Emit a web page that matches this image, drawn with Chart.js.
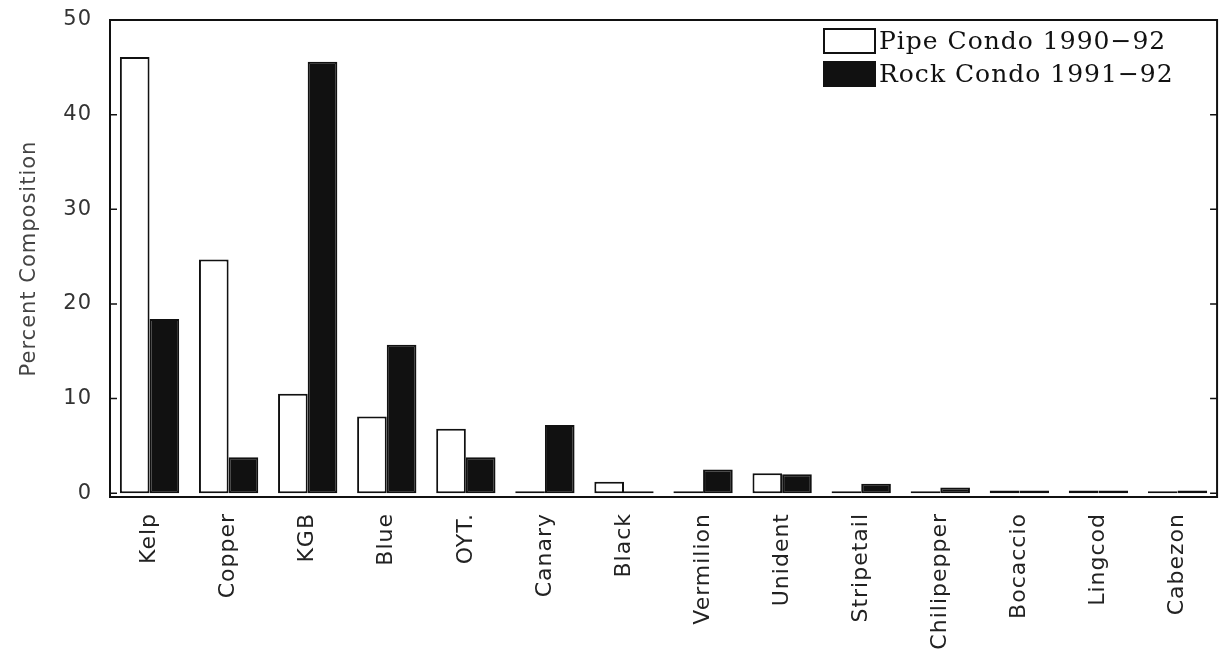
<!DOCTYPE html>
<html>
<head>
<meta charset="utf-8">
<script src="https://cdn.jsdelivr.net/npm/chart.js@4.4.0/dist/chart.umd.min.js"></script>
<style>
  html, body { margin: 0; padding: 0; background: #fff; }
  #wrap { position: relative; width: 1220px; height: 662px; }
  #legend { position: absolute; left: 823px; top: 24px; font-family: "DejaVu Serif", serif; font-size: 25px; letter-spacing: 1px; color: #111; }
  #legend div { display: flex; align-items: center; height: 33px; }
  #legend span.box { display: inline-block; width: 53px; height: 26px; border: 2px solid #111; margin-right: 3px; box-sizing: border-box; }
</style>
</head>
<body>
<div id="wrap">
  <canvas id="fishChart" width="1220" height="662"></canvas>
  <div id="legend">
    <div><span class="box" style="background:#fff"></span>Pipe Condo 1990−92</div>
    <div><span class="box" style="background:#111"></span>Rock Condo 1991−92</div>
  </div>
</div>
<script>
const species = ['Kelp', 'Copper', 'KGB', 'Blue', 'OYT.', 'Canary', 'Black', 'Vermilion', 'Unident', 'Stripetail', 'Chilipepper', 'Bocaccio', 'Lingcod', 'Cabezon'];
const pipeCondo = [46.1, 24.7, 10.5, 8.1, 6.8, 0.2, 1.2, 0.2, 2.1, 0.2, 0.2, 0.3, 0.3, 0.2];
const rockCondo = [18.4, 3.8, 45.6, 15.7, 3.8, 7.2, 0.2, 2.5, 2.0, 1.0, 0.6, 0.3, 0.3, 0.3];
const yTicks = [0, 10, 20, 30, 40, 50];

// slightly wider letter spacing like the old plotter font
const spacing = {
    id: 'spacing',
    beforeDraw(chart) { chart.ctx.letterSpacing = '1px'; }
};

// box round the plot, with short inward ticks on both sides
const frame = {
    id: 'frame',
    afterDraw(chart) {
        const ctx = chart.ctx;
        const a = chart.chartArea;
        const y = chart.scales.y;
        ctx.save();
        ctx.strokeStyle = '#111';
        ctx.lineWidth = 2;
        ctx.strokeRect(a.left, a.top, a.right - a.left, a.bottom - a.top);
        ctx.lineWidth = 1.5;
        yTicks.forEach(v => {
            const py = y.getPixelForValue(v);
            ctx.beginPath();
            ctx.moveTo(a.left, py); ctx.lineTo(a.left + 7, py);
            ctx.moveTo(a.right, py); ctx.lineTo(a.right - 7, py);
            ctx.stroke();
        });
        ctx.restore();
    }
};

const ctx = document.getElementById('fishChart').getContext('2d');
const fishChart = new Chart(ctx, {
    type: 'bar',
    data: {
        labels: species,
        datasets: [
            {
                label: 'Pipe Condo 1990-92',
                data: pipeCondo,
                backgroundColor: '#fff',
                borderColor: '#111',
                borderWidth: 2,
                borderSkipped: false
            },
            {
                label: 'Rock Condo 1991-92',
                data: rockCondo,
                backgroundColor: '#111',
                borderColor: '#111',
                borderWidth: 2,
                borderSkipped: false
            }
        ]
    },
    options: {
        responsive: false,
        animation: false,
        layout: { padding: { top: 20, right: 2, left: 17, bottom: 0 } },
        plugins: {
            legend: { display: false },
            tooltip: { enabled: false }
        },
        datasets: {
            bar: { categoryPercentage: 0.75, barPercentage: 1.0 }
        },
        scales: {
            x: {
                grid: { display: false, drawTicks: false },
                border: { display: false },
                afterFit(scale) { scale.height = 165; },
                ticks: {
                    minRotation: 90,
                    maxRotation: 90,
                    padding: 16,
                    color: '#222',
                    font: { family: 'DejaVu Sans', size: 22 }
                }
            },
            y: {
                min: -0.4,
                max: 50,
                afterBuildTicks(scale) { scale.ticks = yTicks.map(v => ({ value: v })); },
                afterFit(scale) {
                    scale.width = 93;
                    scale.paddingTop = 0;
                    scale.paddingBottom = 0;
                },
                grid: { display: false, drawTicks: false },
                border: { display: false },
                title: {
                    display: true,
                    text: 'Percent Composition',
                    color: '#444',
                    padding: { top: 0, bottom: 8 },
                    font: { family: 'DejaVu Sans', size: 21 }
                },
                ticks: {
                    padding: 18,
                    color: '#333',
                    font: { family: 'DejaVu Sans', size: 21 }
                }
            }
        }
    },
    plugins: [spacing, frame]
});
</script>
</body>
</html>
